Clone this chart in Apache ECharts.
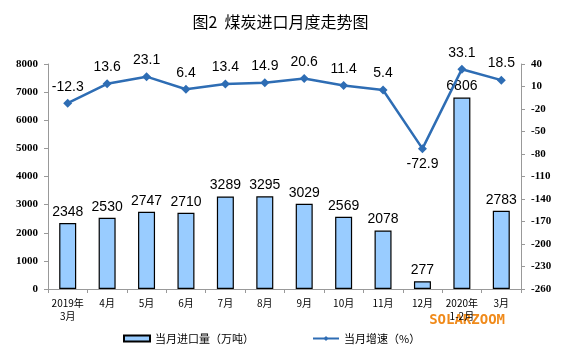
<!DOCTYPE html>
<html>
<head>
<meta charset="utf-8">
<script src="https://cdn.jsdelivr.net/npm/echarts@6/dist/echarts.min.js"></script>
<style>html,body{margin:0;padding:0;background:#fff}#c{width:561px;height:357px}</style>
</head>
<body>
<div id="c"></div>
<script>
var categories = ['2019年\n3月','4月','5月','6月','7月','8月','9月','10月','11月','12月','2020年\n1-2月','3月'];
var importVolume = [2348,2530,2747,2710,3289,3295,3029,2569,2078,277,6806,2783];
var growthRate = [-12.3,13.6,23.1,6.4,13.4,14.9,20.6,11.4,5.4,-72.9,33.1,18.5];
var rightTicks = [-260,-230,-200,-170,-140,-110,-80,-50,-20,10,40];

var chart = echarts.init(document.getElementById('c'), null, {renderer:'canvas'});
var axisFont = {fontFamily:'Liberation Serif', fontSize:11, color:'#000'};
chart.setOption({
  animation:false,
  backgroundColor:'#fff',
  title:{text:'图2  煤炭进口月度走势图', left:'center', top:9,
    textStyle:{fontFamily:'Noto Sans CJK SC', fontSize:16, fontWeight:'normal', color:'#000'}},
  graphic:[{type:'text', right:56, top:313, style:{text:'SOLARZOOM', fill:'#F08A1A', font:'bold 14px "DejaVu Sans Mono", monospace'}}],
  legend:{bottom:8, left:118, itemGap:58, itemWidth:26, itemHeight:6,
    textStyle:{fontFamily:'Noto Sans CJK SC', fontSize:11, color:'#000'},
    data:[{name:'当月进口量（万吨）', icon:'rect'},{name:'当月增速（%）'}]},
  grid:{left:48, right:40, top:64, bottom:68},
  xAxis:{type:'category', data:categories,
    axisLine:{lineStyle:{color:'#999'}},
    axisTick:{show:true, alignWithLabel:false, lineStyle:{color:'#999'}, length:4},
    axisLabel:Object.assign({interval:0, lineHeight:13, margin:8}, axisFont, {fontFamily:'Noto Sans CJK SC', fontSize:10})},
  yAxis:[
    {type:'value', min:0, max:8000, interval:1000, position:'left',
      splitLine:{show:false},
      axisLine:{show:true, lineStyle:{color:'#999'}},
      axisTick:{show:true, inside:false, length:4, lineStyle:{color:'#999'}},
      axisLabel:Object.assign({margin:10, fontWeight:'bold', formatter:function(v){return String(v);}}, axisFont)},
    {type:'value', min:-260, max:40, position:'right',
      splitLine:{show:false},
      axisLine:{show:true, lineStyle:{color:'#999'}},
      axisTick:{show:true, length:4, lineStyle:{color:'#999'}, customValues:rightTicks},
      axisLabel:Object.assign({margin:10, fontWeight:'bold', customValues:rightTicks, formatter:function(v){return String(v);}}, axisFont)}
  ],
  series:[
    {name:'当月进口量（万吨）', type:'bar', data:importVolume, yAxisIndex:0, barWidth:17,
      itemStyle:{color:'#99CCFF', borderColor:'#000', borderWidth:1.2},
      label:{show:true, position:'top', distance:4, fontFamily:'Liberation Sans', fontSize:14, color:'#000'}},
    {name:'当月增速（%）', type:'line', data:growthRate, yAxisIndex:1,
      symbol:'diamond', symbolSize:9,
      lineStyle:{color:'#2E6DB4', width:2.5},
      itemStyle:{color:'#2E6DB4'},
      label:{show:true, position:'top', distance:5, fontFamily:'Liberation Sans', fontSize:14, color:'#000',
        formatter:function(p){return p.value.toFixed(1);}},
      labelLayout:function(p){ if(growthRate[p.dataIndex] < -50){ return {dy:32}; } return {}; }}
  ]
});
</script>
</body>
</html>
